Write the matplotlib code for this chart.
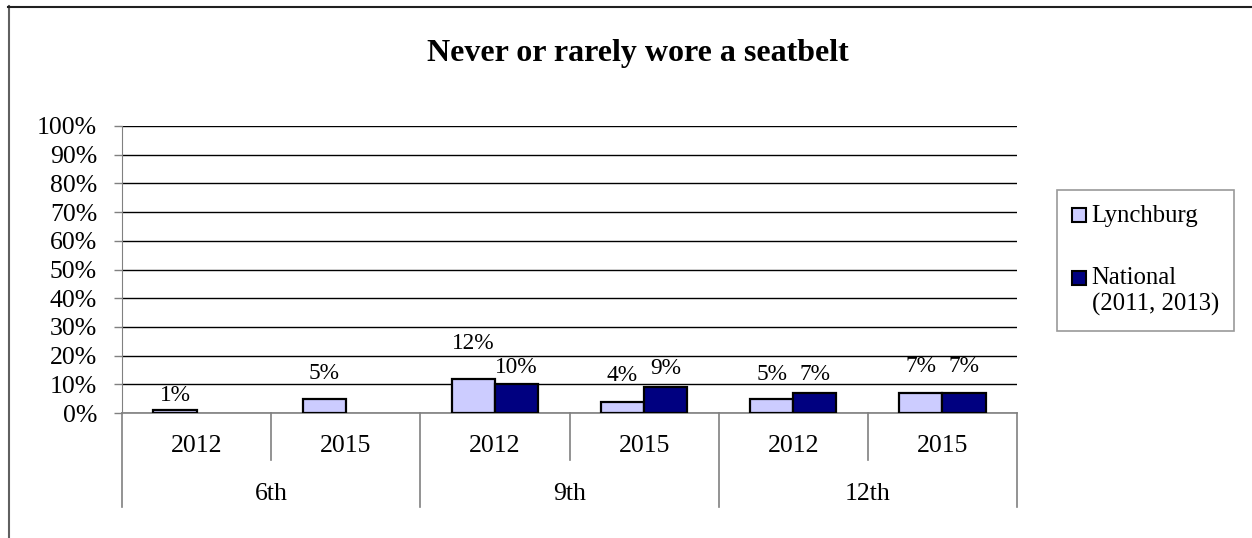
import matplotlib
matplotlib.use("Agg")
import matplotlib.pyplot as plt
from matplotlib.lines import Line2D
from matplotlib.transforms import blended_transform_factory
from matplotlib.ticker import PercentFormatter

plt.rcParams['font.family'] = ['Liberation Serif', 'DejaVu Serif']

title = "Never or rarely wore a seatbelt"
groups = ["6th", "9th", "12th"]
years = ["2012", "2015", "2012", "2015", "2012", "2015"]
series_names = ["Lynchburg", "National\n(2011, 2013)"]
lynchburg = [1, 5, 12, 4, 5, 7]
national = [None, None, 10, 9, 7, 7]
yticks = [0, 10, 20, 30, 40, 50, 60, 70, 80, 90, 100]

# label vertical offsets (pixels above bar top), styling only
off_l = [15, 25, 35, 26, 24, 26]
off_n = [0, 0, 17, 19, 18, 26]

colors = ["#CCCCFF", "#000080"]

W, H = 1252, 538
fig = plt.figure(figsize=(W / 100, H / 100), dpi=100)
ax = fig.add_axes([122 / W, 1 - 413 / H, (1017 - 122) / W, (413 - 126) / H])

n = len(years)
bw = 0.289
fs_tick = 18.5
fs_lab = 16.8

for i in range(n):
    v = lynchburg[i]
    if v is not None:
        ax.bar(i - bw / 2, v, bw, color=colors[0], edgecolor="black", linewidth=1.6, zorder=3)
        ax.annotate(f"{v}%", (i - bw / 2, v), xytext=(0, off_l[i] * 0.72), textcoords="offset points",
                    ha="center", va="center", fontsize=fs_lab)
    v = national[i]
    if v is not None:
        ax.bar(i + bw / 2, v, bw, color=colors[1], edgecolor="black", linewidth=1.6, zorder=3)
        ax.annotate(f"{v}%", (i + bw / 2, v), xytext=(0, off_n[i] * 0.72), textcoords="offset points",
                    ha="center", va="center", fontsize=fs_lab)

ax.set_xlim(-0.5, n - 0.5)
ax.set_ylim(0, 100)
ax.set_yticks(yticks)
ax.yaxis.set_major_formatter(PercentFormatter(decimals=0))
ax.tick_params(axis="y", length=6, width=1, color="#808080", pad=12, labelsize=fs_tick)
ax.set_xticks([])
ax.grid(axis="y", color="black", linewidth=1, zorder=0)
ax.set_axisbelow(True)
for s in ["top", "right"]:
    ax.spines[s].set_visible(False)
ax.spines["left"].set_color("#808080")
ax.spines["bottom"].set_color("#808080")
ax.spines["bottom"].set_linewidth(1.2)

trans = blended_transform_factory(ax.transData, ax.transAxes)
yr_bot = -(460 - 413) / 287
gp_bot = -(507 - 413) / 287
for k in range(n + 1):
    xb = k - 0.5
    bot = gp_bot if k % 2 == 0 else yr_bot
    ax.plot([xb, xb], [0, bot], transform=trans, color="#808080", linewidth=1.2, clip_on=False)
for i, yv in enumerate(years):
    ax.text(i, -(446 - 413) / 287, yv, transform=trans, ha="center", va="center", fontsize=fs_tick)
for g, name in enumerate(groups):
    ax.text(2 * g + 0.5, -(494 - 413) / 287, name, transform=trans, ha="center", va="center", fontsize=fs_tick)

fig.text(638 / W, 1 - 53 / H, title, ha="center", va="center", fontsize=23, fontweight="bold")

handles = [Line2D([], [], linestyle="None", marker="s", markersize=10.5,
                  markerfacecolor=c, markeredgecolor="black", markeredgewidth=1.5) for c in colors]
leg = fig.legend(handles, series_names, loc="upper left",
                 bbox_to_anchor=(1057 / W, 1 - 190 / H), fontsize=17.8,
                 frameon=True, fancybox=False, edgecolor="#808080",
                 handlelength=0.6, handleheight=1.1, handletextpad=0.2,
                 labelspacing=1.57, borderpad=0.6, borderaxespad=0)
leg.get_frame().set_linewidth(1.2)
for col in leg._legend_handle_box.get_children():
    for item in col.get_children():
        item.align = "top"

fig.add_artist(Line2D([8.5 / W, 8.5 / W], [0, 1 - 6 / H], color="#606060", linewidth=1.5))
fig.add_artist(Line2D([8 / W, 1], [1 - 6.5 / H, 1 - 6.5 / H], color="#202020", linewidth=1.5))

fig.savefig("out.png", dpi=100)
